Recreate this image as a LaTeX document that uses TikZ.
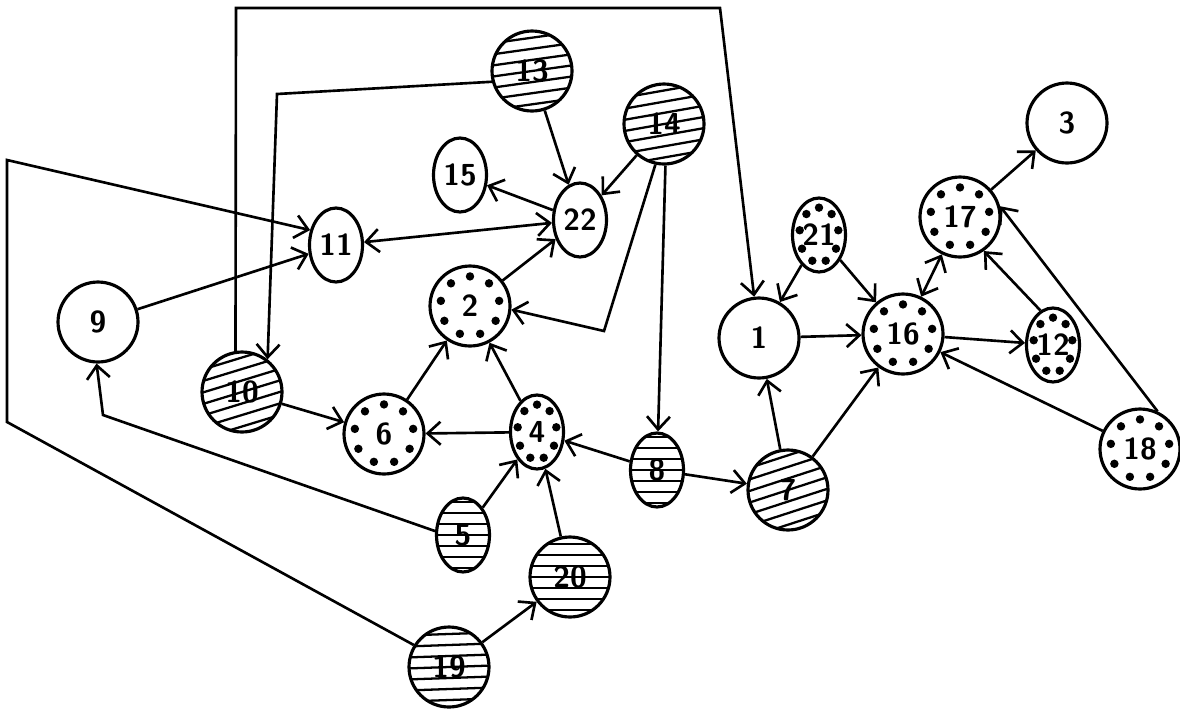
\documentclass[tikz,border=0pt]{standalone}
\usepackage{tikz}
\usetikzlibrary{arrows.meta}
\usetikzlibrary{shapes.geometric}
\usetikzlibrary{calc}
\tikzset{>={Straight Barb[length=2.6mm,width=4.6mm]}}
\tikzset{
  stn/.style={circle, draw, line width=1.8pt, minimum size=1.6cm, inner sep=0pt, font=\sffamily\bfseries\LARGE},
  ovl/.style={ellipse, draw, line width=1.8pt, minimum width=1.06cm, minimum height=1.48cm, inner sep=0pt, font=\sffamily\bfseries\LARGE},
  hatch/.style={path picture={
    \foreach \k in {-3,...,3}
      \draw[line width=1.3pt] ($(path picture bounding box.center)+(#1+180:1cm)+(#1+90:{\k*0.22cm})$) -- ++(#1:2cm);}},
  dotty/.style={path picture={
    \foreach \a in {10,50,...,330}
      \fill let \p1=(path picture bounding box.center), \p2=(path picture bounding box.north east) in
        ({\x1+0.74*(\x2-\x1)*cos(\a)},{\y1+0.74*(\y2-\y1)*sin(\a)}) circle (2.4pt);}},
  link/.style={->, line width=1.5pt},
}

\begin{document}
\begin{tikzpicture}[x=0.02cm, y=-0.02cm]
	\useasboundingbox (0,0) rectangle (1180,711);
	\node[stn] (n1) at (759,338) {1};
	\node[stn, dotty] (n2) at (470,306) {2};
	\node[stn] (n3) at (1067,123) {3};
	\node[ovl, dotty] (n4) at (537,432) {4};
	\node[ovl, hatch=0] (n5) at (463,535) {5};
	\node[stn, dotty] (n6) at (384,434) {6};
	\node[stn, hatch=18] (n7) at (788,490) {7};
	\node[ovl, hatch=0] (n8) at (657,470) {8};
	\node[stn] (n9) at (98,322) {9};
	\node[stn, hatch=17] (n10) at (242,392) {10};
	\node[ovl] (n11) at (336,245) {11};
	\node[ovl, dotty] (n12) at (1053,345) {12};
	\node[stn, hatch=8] (n13) at (532,71) {13};
	\node[stn, hatch=10] (n14) at (664,124) {14};
	\node[ovl] (n15) at (460,175) {15};
	\node[stn, dotty] (n16) at (903,334) {16};
	\node[stn, dotty] (n17) at (960,217) {17};
	\node[stn, dotty] (n18) at (1140,449) {18};
	\node[stn, hatch=2] (n19) at (449,667) {19};
	\node[stn, hatch=0] (n20) at (570,577) {20};
	\node[ovl, dotty] (n21) at (819,235) {21};
	\node[ovl] (n22) at (580,220) {22};
	% corners of the long connectors
	\coordinate (c1) at (236,8);
	\coordinate (c2) at (720,8);
	\coordinate (c3) at (277,94);
	\coordinate (c4) at (7,422);
	\coordinate (c5) at (7,160);
	\coordinate (c6) at (604,331);
	\coordinate (c7) at (103,415);
	\draw[link] (n10.99) -- (c1) -- (c2) -- (n1);
	\draw[link] (n13.195) -- (c3) -- (n10.52);
	\draw[link] (n19.148) -- (c4) -- (c5) -- (n11.150);
	\draw[link] (n9) -- (n11);
	\draw[link, <->] (n11) -- (n22);
	\draw[link] (n22.160) -- (n15);
	\draw[link] (n13) -- (n22);
	\draw[link] (n14) -- (n22);
	\draw[link] (n14.258) -- (c6) -- (n2.355);
	\draw[link] (n14.272) -- (n8);
	\draw[link] (n2) -- (n22);
	\draw[link] (n6) -- (n2);
	\draw[link] (n4) -- (n2);
	\draw[link] (n4) -- (n6);
	\draw[link] (n10) -- (n6);
	\draw[link] (n5.172) -- (c7) -- (n9.268);
	\draw[link] (n5) -- (n4);
	\draw[link] (n20) -- (n4);
	\draw[link] (n19) -- (n20);
	\draw[link] (n8) -- (n4);
	\draw[link] (n8) -- (n7);
	\draw[link] (n7) -- (n1);
	\draw[link] (n7) -- (n16);
	\draw[link] (n1) -- (n16);
	\draw[link] (n21) -- (n1);
	\draw[link] (n21) -- (n16);
	\draw[link, <->] (n16) -- (n17);
	\draw[link] (n17) -- (n3);
	\draw[link] (n16) -- (n12);
	\draw[link] (n12.110) -- (n17.-55);
	\draw[link] (n18) -- (n16);
	\draw[link] (n18.65) -- (n17.15);
\end{tikzpicture}
\end{document}
